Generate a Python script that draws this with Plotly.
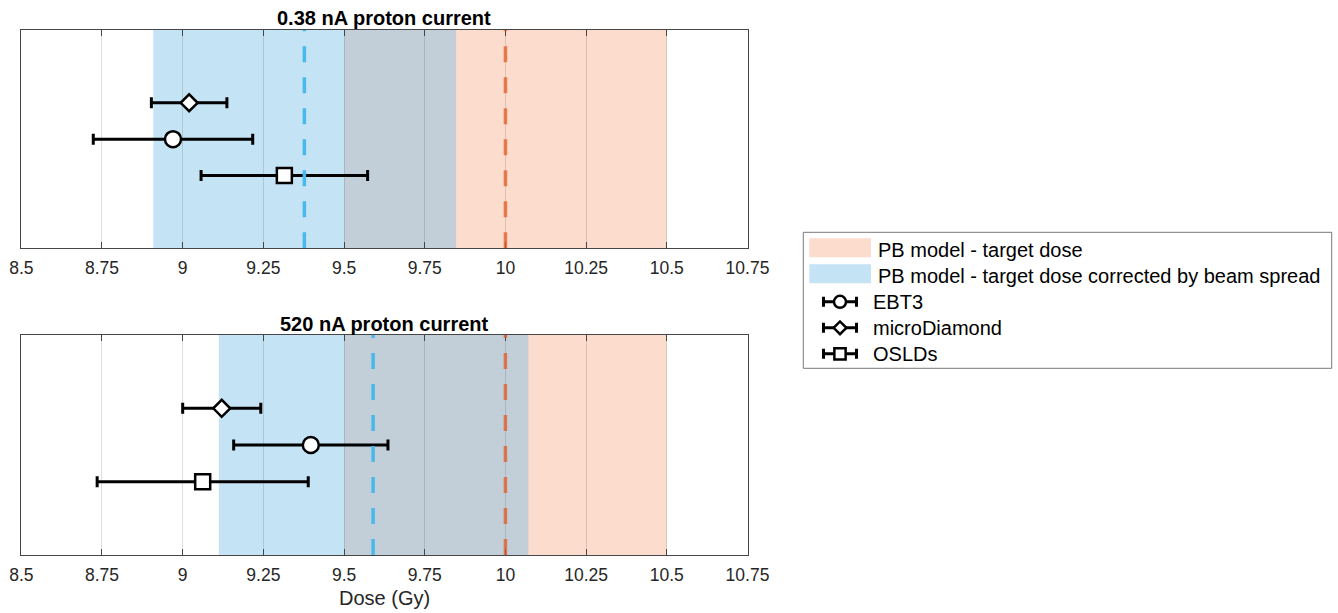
import plotly.graph_objects as go

# ---------------- data ----------------
panel_titles = ["0.38 nA proton current", "520 nA proton current"]
x_tick_values = [8.5, 8.75, 9.0, 9.25, 9.5, 9.75, 10.0, 10.25, 10.5, 10.75]
x_tick_labels = ["8.5", "8.75", "9", "9.25", "9.5", "9.75", "10", "10.25", "10.5", "10.75"]

# detector measurements, [0.38 nA, 520 nA]
ebt3_dose = [8.97, 9.397]
ebt3_err = [0.247, 0.239]
microdiamond_dose = [9.02, 9.121]
microdiamond_err = [0.117, 0.121]
osld_dose = [9.315, 9.062]
osld_err = [0.258, 0.327]

# PB model - target dose band, [0.38 nA, 520 nA]
target_dose = [10.0, 10.0]
target_low = [9.5, 9.5]
target_high = [10.5, 10.5]

# PB model - target dose corrected by beam spread, [0.38 nA, 520 nA]
corrected_dose = [9.377, 9.59]
corrected_low = [8.909, 9.112]
corrected_high = [9.847, 10.071]

legend_labels = ["PB model - target dose",
                 "PB model - target dose corrected by beam spread",
                 "EBT3", "microDiamond", "OSLDs"]

# rows from top to bottom inside each panel
row_order = ["microDiamond", "EBT3", "OSLDs"]

# ---------------- styling / layout helpers ----------------
W, H = 1338, 613
FONT = "Liberation Sans, Arial, sans-serif"
AX_COLOR = "rgb(70,70,70)"
TXT_COLOR = "rgb(38,38,38)"
ORANGE_FILL = "rgb(252,220,204)"
BLUE_FILL = "rgb(120,192,232)"
BLUE_OPACITY = 0.44
ORANGE_LINE = "rgba(228,90,35,0.75)"
BLUE_LINE = "rgb(72,185,235)"


def fx(p):
    return p / W


def fy(p):
    return 1 - p / H


detectors = {
    "EBT3": dict(dose=ebt3_dose, err=ebt3_err, symbol="circle", size=16),
    "microDiamond": dict(dose=microdiamond_dose, err=microdiamond_err, symbol="diamond", size=13),
    "OSLDs": dict(dose=osld_dose, err=osld_err, symbol="square", size=15),
}
n_rows = len(row_order)
y_top = n_rows + 1  # rows sit at 4, 3, 2 on a 0..6 axis
y_range = [0, 2 * n_rows]

panels = [
    dict(x="x", y="y", xd=(21.3, 747.5), yd=(30, 248.3), title_y=18.0),
    dict(x="x2", y="y2", xd=(21.3, 747.5), yd=(335, 555), title_y=323.5),
]

fig = go.Figure()
shapes = []
annotations = []

for i, p in enumerate(panels):
    # bands
    shapes.append(dict(type="rect", xref=p["x"], yref=p["y"] + " domain",
                       x0=target_low[i], x1=target_high[i], y0=0, y1=1,
                       fillcolor=ORANGE_FILL, line=dict(width=0), layer="below"))
    shapes.append(dict(type="rect", xref=p["x"], yref=p["y"] + " domain",
                       x0=corrected_low[i], x1=corrected_high[i], y0=0, y1=1,
                       fillcolor=BLUE_FILL, opacity=BLUE_OPACITY,
                       line=dict(width=0), layer="below"))
    # dashed reference lines
    shapes.append(dict(type="line", xref=p["x"], yref=p["y"],
                       x0=corrected_dose[i], x1=corrected_dose[i], y0=y_range[0], y1=y_range[1],
                       line=dict(color=BLUE_LINE, width=3.5, dash="16px,15px"), layer="above"))
    shapes.append(dict(type="line", xref=p["x"], yref=p["y"],
                       x0=target_dose[i], x1=target_dose[i], y0=y_range[0], y1=y_range[1],
                       line=dict(color=ORANGE_LINE, width=3.5, dash="16px,15px"), layer="above"))

    for r, name in enumerate(row_order):
        d = detectors[name]
        fig.add_trace(go.Scatter(
            x=[d["dose"][i]], y=[y_top - r], xaxis=p["x"], yaxis=p["y"],
            mode="markers", name=name, showlegend=False,
            marker=dict(symbol=d["symbol"], size=d["size"], color="white",
                        line=dict(color="black", width=2.5)),
            error_x=dict(type="data", array=[d["err"][i]], color="black",
                         thickness=3, width=5.5),
        ))

    annotations.append(dict(text="<b>%s</b>" % panel_titles[i], xref="paper", yref="paper",
                            x=fx((p["xd"][0] + p["xd"][1]) / 2), y=fy(p["title_y"]),
                            xanchor="center", yanchor="middle", showarrow=False,
                            font=dict(family=FONT, size=20, color="black")))

annotations.append(dict(text="Dose (Gy)", xref="paper", yref="paper",
                        x=fx((21.3 + 747.5) / 2), y=fy(598), xanchor="center", yanchor="middle",
                        showarrow=False, font=dict(family=FONT, size=20, color=TXT_COLOR)))

axis_common = dict(range=[x_tick_values[0], x_tick_values[-1]], tickvals=x_tick_values,
                   ticktext=x_tick_labels, showgrid=True, gridcolor="rgba(38,38,38,0.15)",
                   gridwidth=1, zeroline=False, showline=True, linecolor=AX_COLOR, linewidth=1.2,
                   mirror="ticks", ticks="inside", ticklen=6, tickwidth=1.2, tickcolor=AX_COLOR,
                   tickfont=dict(family=FONT, size=17.5, color=TXT_COLOR), fixedrange=True,
                   ticklabelstandoff=4, automargin=False)
yaxis_common = dict(range=y_range, showgrid=False, zeroline=False, showticklabels=False,
                    ticks="", showline=True, linecolor=AX_COLOR, linewidth=1.2, mirror=True,
                    fixedrange=True, automargin=False)

# ---------------- legend (drawn in its own hidden axes) ----------------
LG = dict(l=803.3, r=1331.7, t=232.3, b=368.3)
lg_w = LG["r"] - LG["l"]
lg_h = LG["b"] - LG["t"]
row0, row_step = 17.5, 26.0
legend_rows = [row0 + row_step * k for k in range(len(legend_labels))]

shapes.append(dict(type="rect", xref="paper", yref="paper",
                   x0=fx(LG["l"]), x1=fx(LG["r"]), y0=fy(LG["b"]), y1=fy(LG["t"]),
                   line=dict(color="rgb(120,120,120)", width=1), fillcolor="white", layer="below"))
shapes.append(dict(type="rect", xref="x3", yref="y3", x0=6, x1=67.7,
                   y0=legend_rows[0] - 11.5, y1=legend_rows[0] + 7.5,
                   fillcolor=ORANGE_FILL, line=dict(width=0), layer="above"))
shapes.append(dict(type="rect", xref="x3", yref="y3", x0=6, x1=67.7,
                   y0=legend_rows[1] - 11.5, y1=legend_rows[1] + 7.5,
                   fillcolor=BLUE_FILL, opacity=BLUE_OPACITY, line=dict(width=0), layer="above"))

for k, label in enumerate(legend_labels):
    annotations.append(dict(text=label, xref="x3", yref="y3", x=72.7 if k < 2 else 68,
                            y=legend_rows[k], xanchor="left", yanchor="middle", showarrow=False,
                            font=dict(family=FONT, size=20, color="black")))

for k, name in enumerate(["EBT3", "microDiamond", "OSLDs"]):
    d = detectors[name]
    fig.add_trace(go.Scatter(
        x=[36.7], y=[legend_rows[2 + k]], xaxis="x3", yaxis="y3", mode="markers",
        showlegend=False, hoverinfo="skip",
        marker=dict(symbol=d["symbol"], size=d["size"] * 0.75, color="white",
                    line=dict(color="black", width=2.5)),
        error_x=dict(type="data", array=[16.5], color="black", thickness=3, width=5),
    ))

fig.update_layout(
    width=W, height=H, margin=dict(l=0, r=0, t=0, b=0, autoexpand=False),
    paper_bgcolor="white", plot_bgcolor="white", showlegend=False,
    xaxis=dict(domain=[fx(21.3), fx(747.5)], anchor="y", **axis_common),
    yaxis=dict(domain=[fy(248.3), fy(30)], anchor="x", **yaxis_common),
    xaxis2=dict(domain=[fx(21.3), fx(747.5)], anchor="y2", **axis_common),
    yaxis2=dict(domain=[fy(555), fy(335)], anchor="x2", **yaxis_common),
    xaxis3=dict(domain=[fx(LG["l"]), fx(LG["r"])], range=[0, lg_w], anchor="y3",
                visible=False, fixedrange=True, automargin=False),
    yaxis3=dict(domain=[fy(LG["b"]), fy(LG["t"])], range=[lg_h, 0], anchor="x3",
                visible=False, fixedrange=True, automargin=False),
    shapes=shapes, annotations=annotations,
)

fig.write_html("out.html", config={"displayModeBar": False},
               post_script="document.body.style.margin='0';document.body.style.overflow='hidden';")
